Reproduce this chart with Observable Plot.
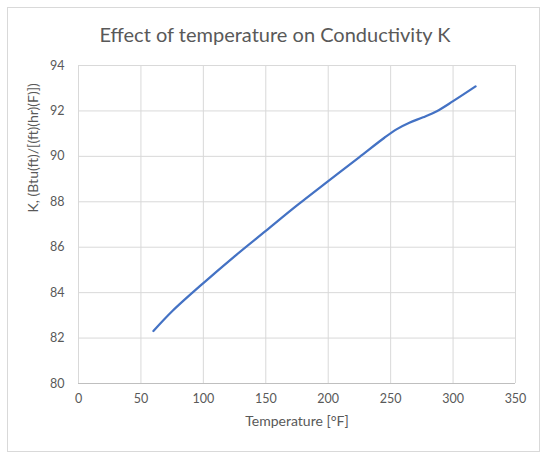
<!DOCTYPE html>
<html>
<head>
<meta charset="utf-8">
<script src="https://cdn.jsdelivr.net/npm/d3@7"></script>
<script src="https://cdn.jsdelivr.net/npm/@observablehq/plot@0.6"></script>
<style>
  html, body { margin: 0; padding: 0; background: #fff; }
  #wrap { position: relative; width: 550px; height: 461px; font-family: Lato, "Open Sans", sans-serif; }
  #frame { position: absolute; left: 7px; top: 7px; width: 533px; height: 445px; border: 1px solid #d9d9d9; box-sizing: border-box; }
  #title { position: absolute; left: 0; top: 22px; width: 550px; text-align: center; font-size: 20px; color: #595959; }
  #chart { position: absolute; left: 0; top: 0; }
</style>
</head>
<body>
<div id="wrap">
  <div id="frame"></div>
  <div id="chart"></div>
  <div id="title">Effect of temperature on Conductivity K</div>
</div>
<script>
const temperature = [60, 75, 100, 125, 150, 175, 200, 225, 245, 255, 265, 276, 287, 300, 318];
const conductivity = [82.31, 83.18, 84.42, 85.60, 86.72, 87.84, 88.91, 89.97, 90.82, 91.20, 91.48, 91.72, 91.99, 92.43, 93.08];
const xTicks = [0, 50, 100, 150, 200, 250, 300, 350];
const yTicks = [80, 82, 84, 86, 88, 90, 92, 94];
const xLabel = "Temperature [°F]";
const yLabel = "K, (Btu(ft)/[(ft)(hr)(F)])";

const data = temperature.map((t, i) => ({t, k: conductivity[i]}));

const chart = Plot.plot({
  width: 550,
  height: 461,
  marginLeft: 78,
  marginRight: 35,
  marginTop: 65,
  marginBottom: 78,
  style: {fontFamily: "Lato, 'Open Sans', sans-serif", fontSize: "12.5px", color: "#595959", background: "transparent"},
  x: {domain: [0, 350], ticks: xTicks, label: null},
  y: {domain: [80, 94], ticks: yTicks, label: null},
  marks: [
    Plot.gridX(xTicks, {stroke: "#d9d9d9", strokeOpacity: 1, strokeWidth: 1}),
    Plot.gridY(yTicks, {stroke: "#d9d9d9", strokeOpacity: 1, strokeWidth: 1}),
    Plot.ruleY([80], {stroke: "#bfbfbf", strokeWidth: 1}),
    Plot.axisX(xTicks, {tickSize: 0, tickPadding: 11, fill: "#595959", fontSize: 12.5}),
    Plot.axisY(yTicks, {tickSize: 0, tickPadding: 14, fill: "#595959", fontSize: 12.5}),
    Plot.text([xLabel], {frameAnchor: "bottom", dy: 42, fill: "#595959", fontSize: 14}),
    Plot.text([yLabel], {frameAnchor: "left", dx: -45, dy: -12, rotate: -90, fill: "#595959", fontSize: 14}),
    Plot.line(data, {x: "t", y: "k", stroke: "#4472c4", strokeWidth: 2.25, curve: "catmull-rom"})
  ]
});
document.getElementById("chart").appendChild(chart);
</script>
</body>
</html>
